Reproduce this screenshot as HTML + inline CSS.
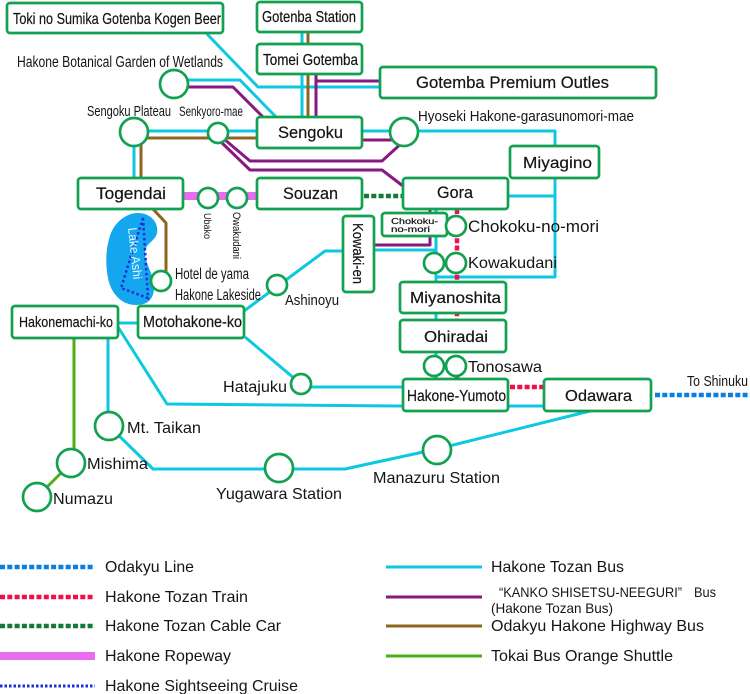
<!DOCTYPE html>
<html>
<head>
<meta charset="utf-8">
<style>
html,body{margin:0;padding:0;background:#fff;width:750px;height:694px;overflow:hidden}
svg{display:block}
text{font-family:"Liberation Sans",sans-serif;fill:#151515}
.b{fill:#fff;stroke:#12a150;stroke-width:2.7}
.c{fill:#fff;stroke:#12a150;stroke-width:2.7}
.l{fill:none;stroke-linejoin:round}
.cy{stroke:#0cc8e0;stroke-width:3}
.pu{stroke:#861a80;stroke-width:3}
.br{stroke:#8d6420;stroke-width:3}
.gr{stroke:#4fae14;stroke-width:3}
.bt{stroke:#111;stroke-width:.2}
</style>
</head>
<body>
<svg xmlns="http://www.w3.org/2000/svg" width="750" height="694" viewBox="0 0 750 694">
<!-- lake -->
<path d="M138 213 C150 213 159 222 157 233 C155 242 145 243 145 253 C145 264 154 274 154 287 C154 298 149 305 136 305 C122 305 111 294 108 278 C105 262 106 246 111 233 C116 221 127 213 138 213 Z" fill="#14a7f0"/>
<polygon points="143,218 148,298 121,288" fill="none" stroke="#1a2fd8" stroke-width="2.5" stroke-dasharray="2.5 2.5"/>
<text transform="translate(128,228) rotate(84)" font-size="12.5" style="fill:#e8fbff" textLength="52" lengthAdjust="spacingAndGlyphs">Lake Ashi</text>

<!-- cyan -->
<g class="l cy">
<path d="M207 34 L258 87 L380 87"/>
<path d="M174 80 L240 80 L276 117"/>
<path d="M302 32 V117"/>
<path d="M134 131 H257"/>
<path d="M134 132 V178"/>
<path d="M362 131 H404"/>
<path d="M404 131 H555 V277 H436"/>
<path d="M508 196 H555"/>
<path d="M436 209 V379"/>
<path d="M374 250 H436"/>
<path d="M343 251 H325 L244 311"/>
<path d="M245 337 L301 384"/>
<path d="M301 387 H403"/>
<path d="M118 323 H138"/>
<path d="M118 327 L167 404 L403 406 H544"/>
<path d="M108 338 V426"/>
<path d="M109 426 L153 469 H345 L437 449 L590 411"/>
</g>
<!-- purple -->
<g class="l pu">
<path d="M174 87 H233 L263 117"/>
<path d="M316 74 V117"/>
<path d="M316 81 H380"/>
<path d="M362 140 H400"/>
<path d="M224 139 L250 161 H382 L404 141"/>
<path d="M220 141 L250 170 H382 L403 186"/>
<path d="M430 209 V245 H374"/>
</g>
<!-- brown -->
<g class="l br">
<path d="M308 32 V117"/>
<path d="M134 138 H257"/>
<path d="M141 138 V178"/>
<path d="M153 209 L166 223 V272"/>
</g>
<!-- green -->
<g class="l gr">
<path d="M74 338 V463"/>
<path d="M71 463 L37 497"/>
</g>
<!-- dashed -->
<path d="M457 209 V379" fill="none" stroke="#f0104e" stroke-width="4.5" stroke-dasharray="5 2.3"/>
<path d="M510 387 H544" fill="none" stroke="#f0104e" stroke-width="4.5" stroke-dasharray="5 2.3"/>
<path d="M364 196 H403" fill="none" stroke="#137a3a" stroke-width="4.5" stroke-dasharray="5 2.3"/>
<path d="M655 395 H750" fill="none" stroke="#0a7fe0" stroke-width="4.5" stroke-dasharray="5 2.3"/>
<path d="M183 196 H257" fill="none" stroke="#e86cf0" stroke-width="8"/>

<!-- boxes -->
<rect class="b" x="7" y="3" width="216" height="30" rx="3"/>
<rect class="b" x="257" y="2" width="105" height="30" rx="3"/>
<rect class="b" x="257" y="44" width="105" height="30" rx="3"/>
<rect class="b" x="380" y="67" width="276" height="31" rx="3"/>
<rect class="b" x="257" y="117" width="105" height="31" rx="3"/>
<rect class="b" x="78" y="178" width="105" height="31" rx="3"/>
<rect class="b" x="257" y="178" width="105" height="31" rx="3"/>
<rect class="b" x="403" y="178" width="105" height="31" rx="3"/>
<rect class="b" x="510" y="146" width="89" height="32" rx="3"/>
<rect class="b" x="382" y="213" width="65" height="23" rx="3"/>
<rect class="b" x="343" y="216" width="31" height="76" rx="3"/>
<rect class="b" x="400" y="282" width="106" height="31" rx="3"/>
<rect class="b" x="400" y="320" width="106" height="32" rx="3"/>
<rect class="b" x="403" y="379" width="105" height="32" rx="3"/>
<rect class="b" x="544" y="379" width="107" height="32" rx="3"/>
<rect class="b" x="12" y="306" width="106" height="32" rx="3"/>
<rect class="b" x="138" y="306" width="106" height="32" rx="3"/>

<!-- circles -->
<circle class="c" cx="174" cy="84" r="14"/>
<circle class="c" cx="134" cy="132" r="14"/>
<circle class="c" cx="218" cy="133" r="10"/>
<circle class="c" cx="404" cy="132" r="14"/>
<circle class="c" cx="208" cy="198" r="10"/>
<circle class="c" cx="237" cy="198" r="10"/>
<circle class="c" cx="161" cy="281" r="10"/>
<circle class="c" cx="277" cy="285" r="10"/>
<circle class="c" cx="456" cy="226" r="10"/>
<circle class="c" cx="456" cy="263" r="10"/>
<circle class="c" cx="434" cy="263" r="10"/>
<circle class="c" cx="456" cy="366" r="10"/>
<circle class="c" cx="434" cy="366" r="10"/>
<circle class="c" cx="301" cy="384" r="10"/>
<circle class="c" cx="109" cy="426" r="14"/>
<circle class="c" cx="71" cy="463" r="14"/>
<circle class="c" cx="37" cy="497" r="14"/>
<circle class="c" cx="279" cy="468" r="14"/>
<circle class="c" cx="437" cy="450" r="14"/>

<!-- box labels -->
<g class="bt">
<text x="13" y="24" font-size="16" textLength="208" lengthAdjust="spacingAndGlyphs">Toki no Sumika Gotenba Kogen Beer</text>
<text x="262" y="22" font-size="16" textLength="94" lengthAdjust="spacingAndGlyphs">Gotenba Station</text>
<text x="263" y="65" font-size="16" textLength="95" lengthAdjust="spacingAndGlyphs">Tomei Gotemba</text>
<text x="416" y="88" font-size="17" textLength="193" lengthAdjust="spacingAndGlyphs">Gotemba Premium Outles</text>
<text x="278" y="138" font-size="17" textLength="65" lengthAdjust="spacingAndGlyphs">Sengoku</text>
<text x="96" y="199" font-size="17" textLength="70" lengthAdjust="spacingAndGlyphs">Togendai</text>
<text x="283" y="199" font-size="17" textLength="55" lengthAdjust="spacingAndGlyphs">Souzan</text>
<text x="437" y="198" font-size="17" textLength="36" lengthAdjust="spacingAndGlyphs">Gora</text>
<text x="523" y="168" font-size="16" textLength="69" lengthAdjust="spacingAndGlyphs">Miyagino</text>
<text x="391" y="224" font-size="8" textLength="47" lengthAdjust="spacingAndGlyphs">Chokoku-</text>
<text x="391" y="232" font-size="8" textLength="39" lengthAdjust="spacingAndGlyphs">no-mori</text>
<text transform="translate(353,223) rotate(90)" font-size="14.5" textLength="61" lengthAdjust="spacingAndGlyphs">Kowaki-en</text>
<text x="410" y="303" font-size="16" textLength="91" lengthAdjust="spacingAndGlyphs">Miyanoshita</text>
<text x="424" y="342" font-size="16" textLength="64" lengthAdjust="spacingAndGlyphs">Ohiradai</text>
<text x="407" y="401" font-size="15.5" textLength="99" lengthAdjust="spacingAndGlyphs">Hakone-Yumoto</text>
<text x="565" y="401" font-size="16" textLength="67" lengthAdjust="spacingAndGlyphs">Odawara</text>
<text x="19" y="327" font-size="15" textLength="94" lengthAdjust="spacingAndGlyphs">Hakonemachi-ko</text>
<text x="143" y="327" font-size="15.5" textLength="99" lengthAdjust="spacingAndGlyphs">Motohakone-ko</text>
</g>

<!-- station labels -->
<text x="17" y="67" font-size="15.5" textLength="206" lengthAdjust="spacingAndGlyphs">Hakone Botanical Garden of Wetlands</text>
<text x="87" y="116" font-size="15" textLength="84" lengthAdjust="spacingAndGlyphs">Sengoku Plateau</text>
<text x="179" y="116" font-size="13.5" textLength="64" lengthAdjust="spacingAndGlyphs">Senkyoro-mae</text>
<text x="418" y="121" font-size="15" textLength="216" lengthAdjust="spacingAndGlyphs">Hyoseki Hakone-garasunomori-mae</text>
<text transform="translate(204,213) rotate(90)" font-size="10.5" textLength="26" lengthAdjust="spacingAndGlyphs">Ubako</text>
<text transform="translate(233,212) rotate(90)" font-size="11" textLength="47" lengthAdjust="spacingAndGlyphs">Owakudani</text>
<text x="175" y="279" font-size="15.5" textLength="74" lengthAdjust="spacingAndGlyphs">Hotel de yama</text>
<text x="175" y="300" font-size="15.5" textLength="86" lengthAdjust="spacingAndGlyphs">Hakone Lakeside</text>
<text x="285" y="305" font-size="15" textLength="54" lengthAdjust="spacingAndGlyphs">Ashinoyu</text>
<text x="468" y="232" font-size="16.5" textLength="131" lengthAdjust="spacingAndGlyphs">Chokoku-no-mori</text>
<text x="468" y="268" font-size="16" textLength="89" lengthAdjust="spacingAndGlyphs">Kowakudani</text>
<text x="468" y="372" font-size="16" textLength="74" lengthAdjust="spacingAndGlyphs">Tonosawa</text>
<text x="223" y="392" font-size="15.5" textLength="64" lengthAdjust="spacingAndGlyphs">Hatajuku</text>
<text x="127" y="433" font-size="16" textLength="74" lengthAdjust="spacingAndGlyphs">Mt. Taikan</text>
<text x="87" y="469" font-size="16" textLength="61" lengthAdjust="spacingAndGlyphs">Mishima</text>
<text x="53" y="504" font-size="16" textLength="60" lengthAdjust="spacingAndGlyphs">Numazu</text>
<text x="216" y="499" font-size="16" textLength="126" lengthAdjust="spacingAndGlyphs">Yugawara Station</text>
<text x="373" y="483" font-size="16" textLength="127" lengthAdjust="spacingAndGlyphs">Manazuru Station</text>
<text x="687" y="386" font-size="15" textLength="61" lengthAdjust="spacingAndGlyphs">To Shinuku</text>

<!-- legend left -->
<path d="M0 567 H95" fill="none" stroke="#0a7fe0" stroke-width="4.5" stroke-dasharray="5 2.3"/>
<path d="M0 597 H95" fill="none" stroke="#f0104e" stroke-width="4.5" stroke-dasharray="5 2.3"/>
<path d="M0 626 H95" fill="none" stroke="#137a3a" stroke-width="4.5" stroke-dasharray="5 2.3"/>
<path d="M0 656 H95" fill="none" stroke="#e86cf0" stroke-width="8"/>
<path d="M0 686 H95" fill="none" stroke="#1a2fd8" stroke-width="3" stroke-dasharray="2.5 2"/>
<text x="105" y="572" font-size="16" textLength="89" lengthAdjust="spacingAndGlyphs">Odakyu Line</text>
<text x="105" y="602" font-size="16" textLength="143" lengthAdjust="spacingAndGlyphs">Hakone Tozan Train</text>
<text x="105" y="631" font-size="16" textLength="176" lengthAdjust="spacingAndGlyphs">Hakone Tozan Cable Car</text>
<text x="105" y="661" font-size="16" textLength="126" lengthAdjust="spacingAndGlyphs">Hakone Ropeway</text>
<text x="105" y="691" font-size="16" textLength="193" lengthAdjust="spacingAndGlyphs">Hakone Sightseeing Cruise</text>

<!-- legend right -->
<path d="M386 567 H482" fill="none" stroke="#0cc8e0" stroke-width="3"/>
<path d="M386 597 H482" fill="none" stroke="#861a80" stroke-width="3"/>
<path d="M386 626 H482" fill="none" stroke="#8d6420" stroke-width="3"/>
<path d="M386 656 H482" fill="none" stroke="#4fae14" stroke-width="3"/>
<text x="491" y="572" font-size="16" textLength="133" lengthAdjust="spacingAndGlyphs">Hakone Tozan Bus</text>
<text x="499" y="597" font-size="14" textLength="183" lengthAdjust="spacingAndGlyphs">“KANKO SHISETSU-NEEGURI”</text>
<text x="694" y="597" font-size="14" textLength="22" lengthAdjust="spacingAndGlyphs">Bus</text>
<text x="491" y="613" font-size="14" textLength="122" lengthAdjust="spacingAndGlyphs">(Hakone Tozan Bus)</text>
<text x="491" y="631" font-size="16" textLength="213" lengthAdjust="spacingAndGlyphs">Odakyu Hakone Highway Bus</text>
<text x="491" y="661" font-size="16" textLength="182" lengthAdjust="spacingAndGlyphs">Tokai Bus Orange Shuttle</text>
</svg>
</body>
</html>
